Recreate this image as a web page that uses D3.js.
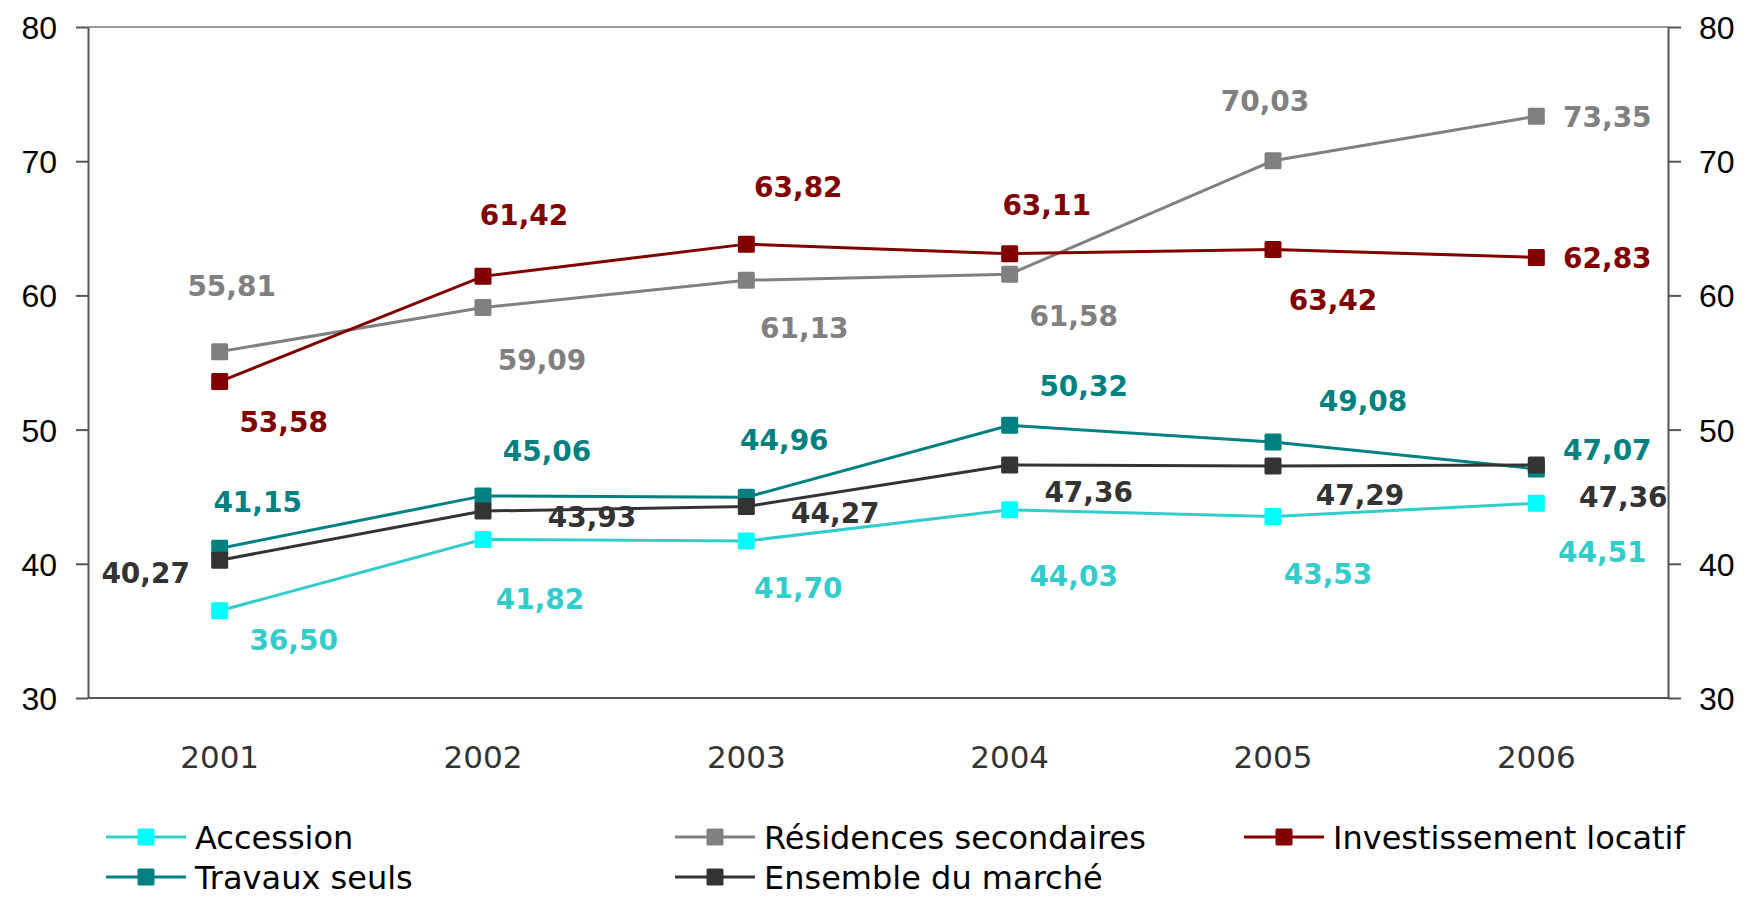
<!DOCTYPE html>
<html>
<head>
<meta charset="utf-8">
<script src="https://cdn.jsdelivr.net/npm/d3@7"></script>
<style>
  body { margin: 0; background: #fff; }
  svg { display: block; font-family: "DejaVu Sans", Verdana, sans-serif; }
  .axis text { font-size: 32px; fill: #000; }
  .axis path, .axis line { stroke: #555; stroke-width: 2px; }
  .year { font-size: 31px; fill: #333; }
  .val { font-size: 28px; font-weight: bold; }
  .legend text { font-size: 32px; fill: #000; }
</style>
</head>
<body>
<svg id="chart" width="1749" height="897"></svg>
<script>
const years = ["2001", "2002", "2003", "2004", "2005", "2006"];
const yTicks = [30, 40, 50, 60, 70, 80];

const accession = [36.50, 41.82, 41.70, 44.03, 43.53, 44.51];
const residences = [55.81, 59.09, 61.13, 61.58, 70.03, 73.35];
const investissement = [53.58, 61.42, 63.82, 63.11, 63.42, 62.83];
const travaux = [41.15, 45.06, 44.96, 50.32, 49.08, 47.07];
const ensemble = [40.27, 43.93, 44.27, 47.36, 47.29, 47.36];

const seriesNames = ["Accession", "Résidences secondaires", "Investissement locatif",
                     "Travaux seuls", "Ensemble du marché"];

// label placement (px from the marker), one row per series
const labelOffsets = {
    "Accession": [[74, 29], [57, 60], [52, 47], [64, 66], [55, 57], [66, 49]],
    "Résidences secondaires": [[12, -66], [59, 52], [58, 48], [64, 42], [-8, -60], [71, 1]],
    "Investissement locatif": [[64, 40], [41, -61], [52, -57], [37, -49], [60, 50], [71, 0]],
    "Travaux seuls": [[38, -46], [64, -45], [38, -57], [74, -39], [90, -41], [71, -19]],
    "Ensemble du marché": [[-74, 13], [109, 6], [89, 6], [79, 27], [87, 29], [87, 32]]
};

const styles = {
    "Accession": { line: "#33CCCC", marker: "#00FFFF", text: "#33CCCC" },
    "Résidences secondaires": { line: "#808080", marker: "#808080", text: "#808080" },
    "Investissement locatif": { line: "#800000", marker: "#800000", text: "#800000" },
    "Travaux seuls": { line: "#008080", marker: "#008080", text: "#008080" },
    "Ensemble du marché": { line: "#333333", marker: "#333333", text: "#333333" }
};

const series = [
    { name: "Accession", values: accession },
    { name: "Résidences secondaires", values: residences },
    { name: "Investissement locatif", values: investissement },
    { name: "Travaux seuls", values: travaux },
    { name: "Ensemble du marché", values: ensemble }
];

const plot = { left: 88, right: 1668, top: 27, bottom: 698 };
const markerSize = 17;

const svg = d3.select("#chart");

const x = d3.scalePoint()
    .domain(years)
    .range([plot.left, plot.right])
    .padding(0.5);

const y = d3.scaleLinear()
    .domain([30, 80])
    .range([plot.bottom, plot.top]);

// frame: top border
svg.append("line")
    .attr("x1", plot.left).attr("x2", plot.right)
    .attr("y1", plot.top).attr("y2", plot.top)
    .attr("stroke", "#999").attr("stroke-width", 2);

// bottom line
svg.append("line")
    .attr("x1", plot.left).attr("x2", plot.right)
    .attr("y1", plot.bottom).attr("y2", plot.bottom)
    .attr("stroke", "#555").attr("stroke-width", 2);

svg.append("g")
    .attr("class", "axis")
    .attr("transform", "translate(" + plot.left + ",0)")
    .call(d3.axisLeft(y).tickValues(yTicks).tickSize(12).tickPadding(19).tickSizeOuter(0));

svg.append("g")
    .attr("class", "axis")
    .attr("transform", "translate(" + plot.right + ",0)")
    .call(d3.axisRight(y).tickValues(yTicks).tickSize(13).tickPadding(18).tickSizeOuter(0));

svg.selectAll(".axis text").attr("dy", "0.36em");

// year labels
svg.selectAll(".year")
    .data(years)
    .join("text")
    .attr("class", "year")
    .attr("x", d => x(d))
    .attr("y", 768)
    .attr("text-anchor", "middle")
    .text(d => d);

const line = d3.line()
    .x((d, i) => x(years[i]))
    .y(d => y(d));

// market total drawn last so its markers sit on top
const groups = svg.selectAll(".series")
    .data(series)
    .join("g")
    .attr("class", "series");

groups.append("path")
    .attr("d", d => line(d.values))
    .attr("fill", "none")
    .attr("stroke", d => styles[d.name].line)
    .attr("stroke-width", 3);

groups.selectAll("rect")
    .data(d => d.values.map((v, i) => ({ name: d.name, v: v, i: i })))
    .join("rect")
    .attr("x", d => x(years[d.i]) - markerSize / 2)
    .attr("y", d => y(d.v) - markerSize / 2)
    .attr("width", markerSize)
    .attr("height", markerSize)
    .attr("rx", 1.5)
    .attr("fill", d => styles[d.name].marker);

// value labels on top of everything
const labels = [];
series.forEach(s => {
    s.values.forEach((v, i) => labels.push({ name: s.name, v: v, i: i }));
});

svg.selectAll(".val")
    .data(labels)
    .join("text")
    .attr("class", "val")
    .attr("x", d => x(years[d.i]) + labelOffsets[d.name][d.i][0])
    .attr("y", d => y(d.v) + labelOffsets[d.name][d.i][1])
    .attr("dy", "0.36em")
    .attr("text-anchor", "middle")
    .attr("fill", d => styles[d.name].text)
    .text(d => d3.format(".2f")(d.v).replace(".", ","));

// legend
const legendPos = [
    { x: 106, y: 837 }, { x: 675, y: 837 }, { x: 1244, y: 837 },
    { x: 106, y: 877 }, { x: 675, y: 877 }
];

const legend = svg.append("g").attr("class", "legend")
    .selectAll("g")
    .data(seriesNames)
    .join("g")
    .attr("transform", (d, i) => "translate(" + legendPos[i].x + "," + legendPos[i].y + ")");

legend.append("line")
    .attr("x1", 0).attr("x2", 80)
    .attr("stroke", d => styles[d].line)
    .attr("stroke-width", 3);

legend.append("rect")
    .attr("x", 40 - markerSize / 2)
    .attr("y", -markerSize / 2)
    .attr("width", markerSize)
    .attr("height", markerSize)
    .attr("rx", 1.5)
    .attr("fill", d => styles[d].marker);

legend.append("text")
    .attr("x", 89)
    .attr("dy", "0.36em")
    .text(d => d);
</script>
</body>
</html>
